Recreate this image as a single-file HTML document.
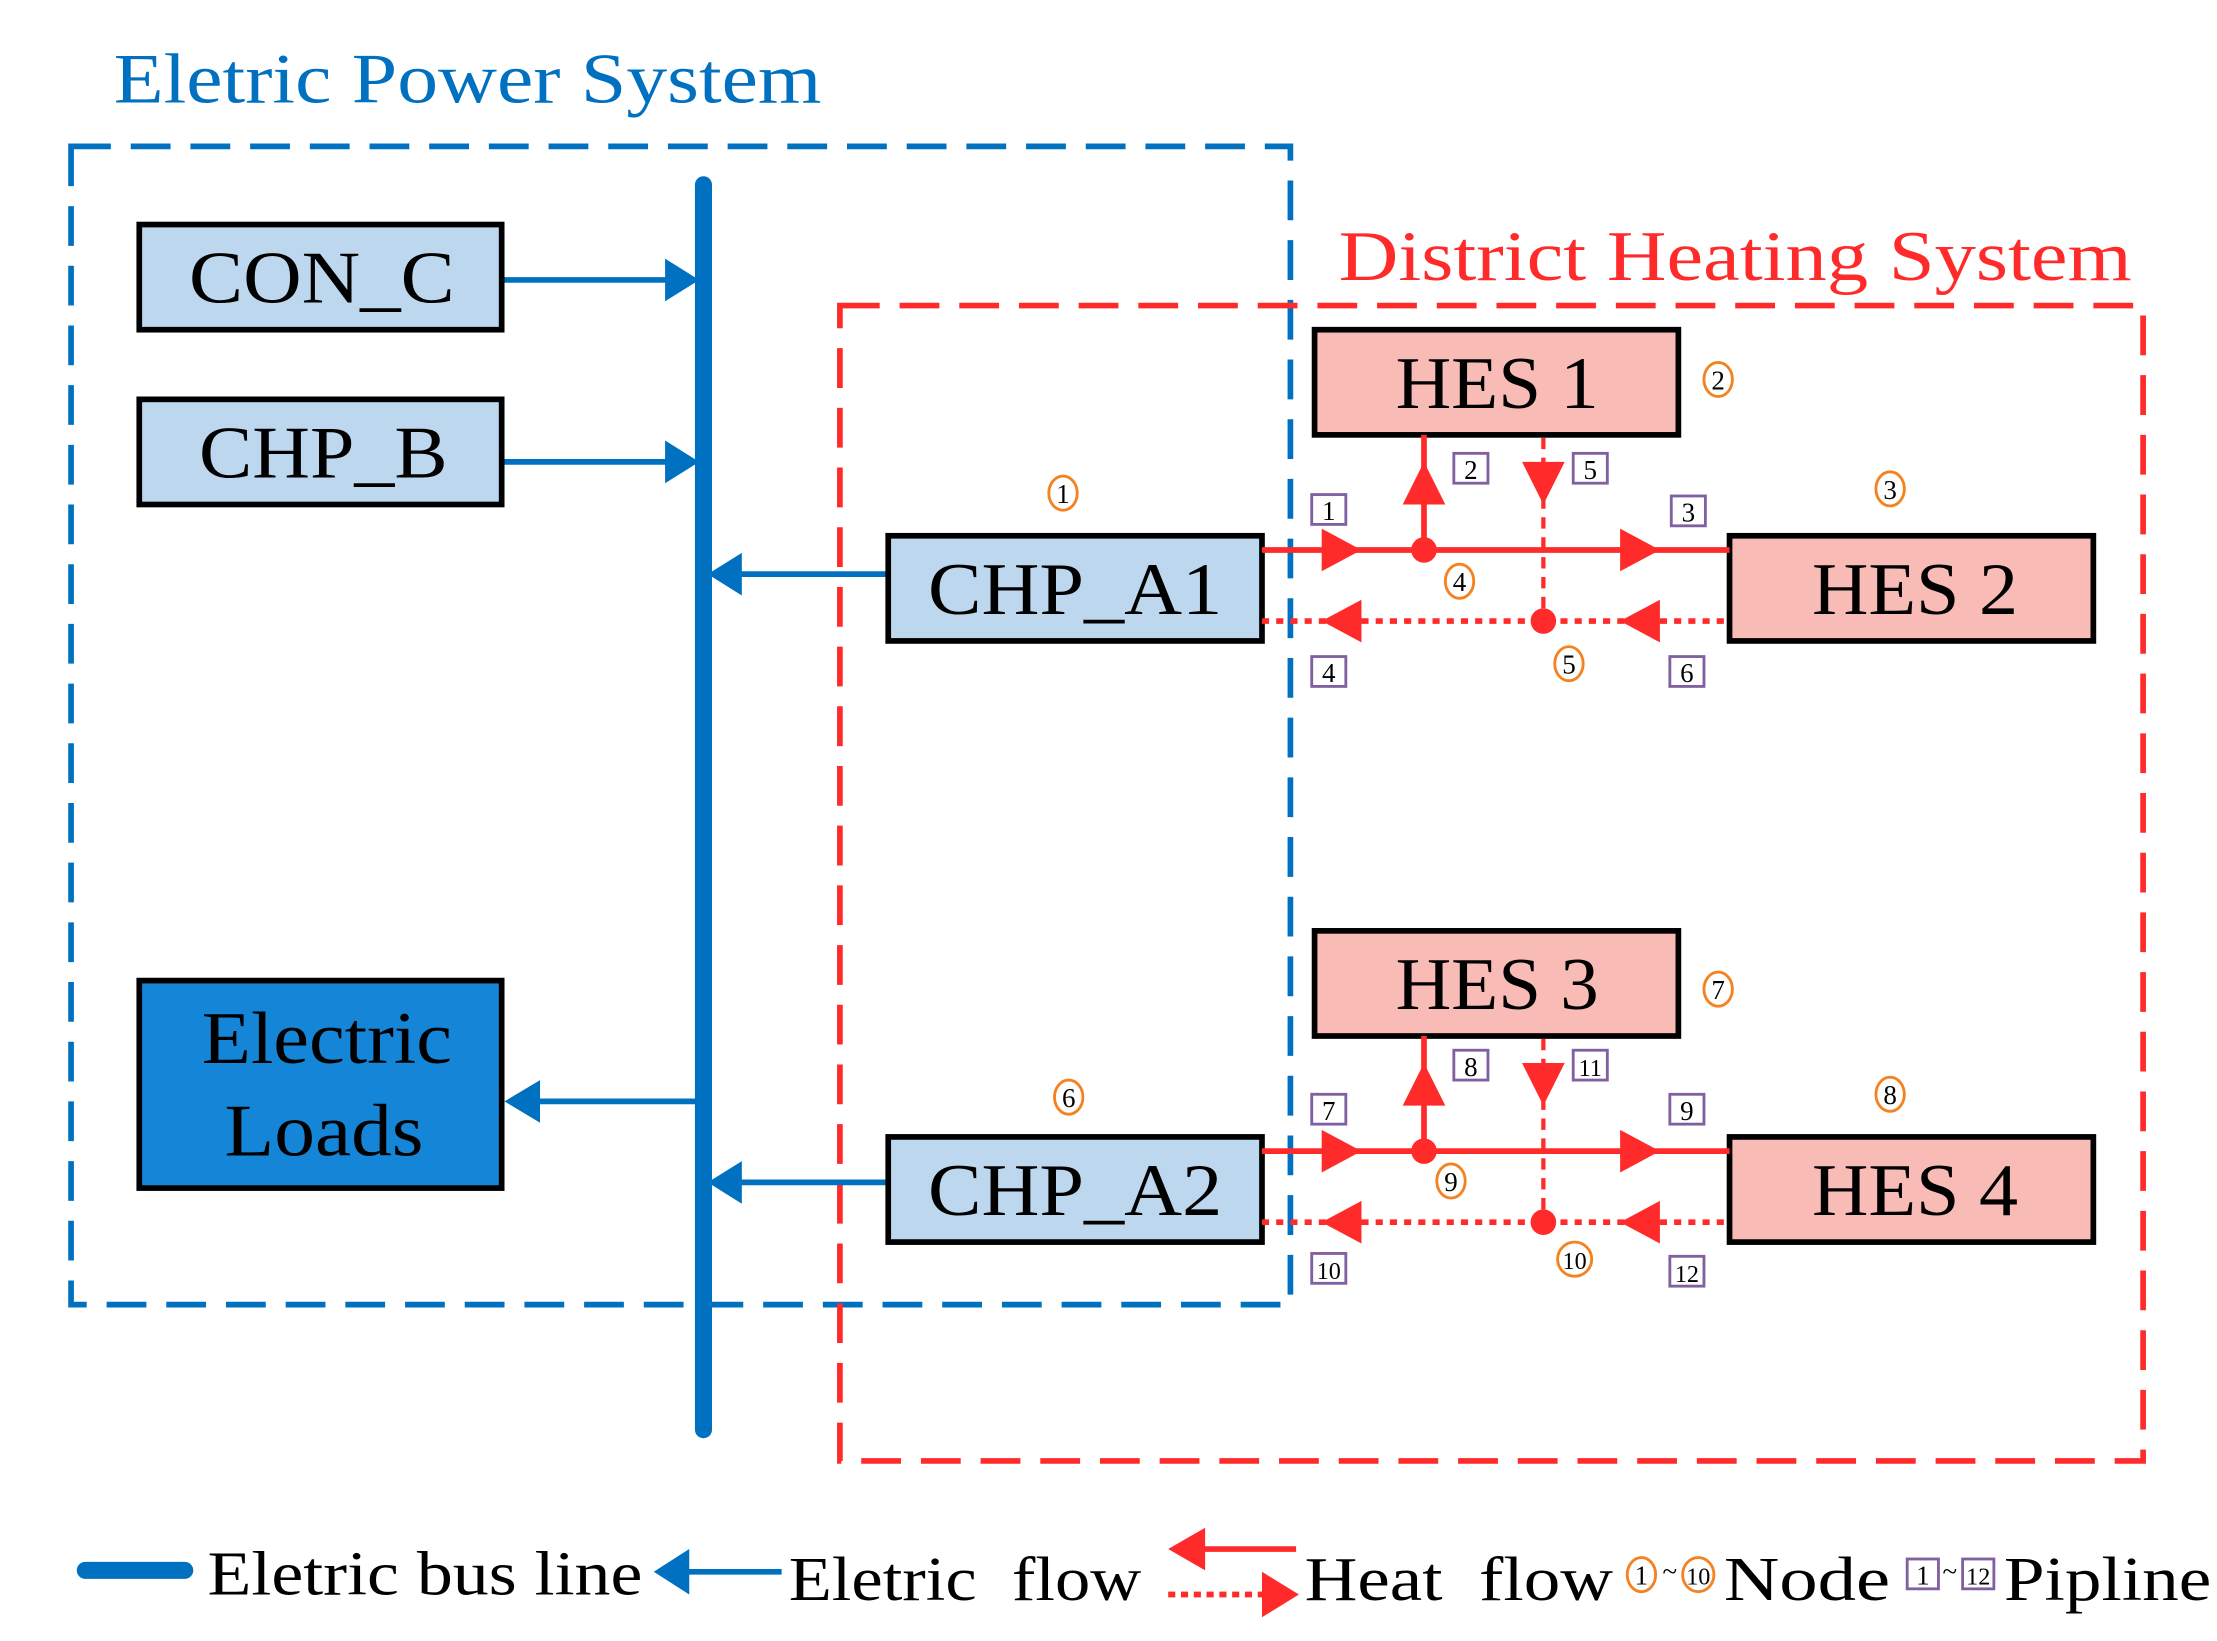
<!DOCTYPE html>
<html><head><meta charset="utf-8"><style>
html,body{margin:0;padding:0;background:#fff;}
svg{display:block;}
text{font-family:"Liberation Serif",serif;}
</style></head><body>
<svg width="2217" height="1641" viewBox="0 0 1560 1154.7" xmlns="http://www.w3.org/2000/svg">
<rect width="1560" height="1155" fill="#fff"/>
<text x="80" y="72" font-size="50" fill="#0070C0" textLength="498" lengthAdjust="spacingAndGlyphs">Eletric Power System</text>
<rect x="50" y="103" width="858" height="815" fill="none" stroke="#0070C0" stroke-width="4" stroke-dasharray="28,14"/>
<text x="942" y="197" font-size="50" fill="#FF2A2A" textLength="558" lengthAdjust="spacingAndGlyphs">District Heating System</text>
<rect x="591" y="215" width="917" height="813" fill="none" stroke="#FF2A2A" stroke-width="4" stroke-dasharray="28,14"/>
<line x1="495" y1="130" x2="495" y2="1006" stroke="#0070C0" stroke-width="12" stroke-linecap="round"/>

<g stroke="#0070C0" stroke-width="4" fill="#0070C0">
<line x1="353" y1="197" x2="470" y2="197"/><path d="M468,182 L492,197 L468,212 Z" stroke="none"/>
<line x1="353" y1="325" x2="470" y2="325"/><path d="M468,310 L492,325 L468,340 Z" stroke="none"/>
<line x1="490" y1="775" x2="378" y2="775"/><path d="M380,760 L355,775 L380,790 Z" stroke="none"/>
<line x1="625" y1="404" x2="520" y2="404"/><path d="M522,389 L498,404 L522,419 Z" stroke="none"/>
<line x1="625" y1="832" x2="520" y2="832"/><path d="M522,817 L498,832 L522,847 Z" stroke="none"/>
</g>

<g stroke="#000" stroke-width="4">
<rect x="98" y="158" width="255" height="74" fill="#BDD7EE"/>
<rect x="98" y="281" width="255" height="74" fill="#BDD7EE"/>
<rect x="98" y="690" width="255" height="146" fill="#1585D8"/>
<rect x="625" y="377" width="263" height="74" fill="#BDD7EE"/>
<rect x="625" y="800" width="263" height="74" fill="#BDD7EE"/>
<rect x="925" y="232" width="256" height="74" fill="#F8BBB6"/>
<rect x="1217" y="377" width="256" height="74" fill="#F8BBB6"/>
<rect x="925" y="655" width="256" height="74" fill="#F8BBB6"/>
<rect x="1217" y="800" width="256" height="74" fill="#F8BBB6"/>
</g>
<g font-size="52" fill="#000" lengthAdjust="spacingAndGlyphs">
<text x="133" y="213" textLength="187" lengthAdjust="spacingAndGlyphs">CON_C</text>
<text x="140" y="336" textLength="175" lengthAdjust="spacingAndGlyphs">CHP_B</text>
<text x="142" y="748" textLength="176" lengthAdjust="spacingAndGlyphs">Electric</text>
<text x="158" y="813" textLength="140" lengthAdjust="spacingAndGlyphs">Loads</text>
<text x="653" y="432" textLength="207" lengthAdjust="spacingAndGlyphs">CHP_A1</text>
<text x="653" y="855" textLength="207" lengthAdjust="spacingAndGlyphs">CHP_A2</text>
<text x="982" y="287" textLength="143" lengthAdjust="spacingAndGlyphs">HES 1</text>
<text x="1275" y="432" textLength="145" lengthAdjust="spacingAndGlyphs">HES 2</text>
<text x="982" y="710" textLength="143" lengthAdjust="spacingAndGlyphs">HES 3</text>
<text x="1275" y="855" textLength="145" lengthAdjust="spacingAndGlyphs">HES 4</text>
</g>

<g id="heat">
<g stroke="#FF2A2A" fill="#FF2A2A">
<line x1="888" y1="387" x2="1217" y2="387" stroke-width="4"/>
<path d="M930,372 L958,387 L930,402 Z" stroke="none"/>
<path d="M1140,372 L1168,387 L1140,402 Z" stroke="none"/>
<circle cx="1002" cy="387" r="9" stroke="none"/>
<line x1="1002" y1="387" x2="1002" y2="306" stroke-width="4"/>
<path d="M987,355 L1002,325 L1017,355 Z" stroke="none"/>
<line x1="888" y1="437" x2="1217" y2="437" stroke-width="4" stroke-dasharray="5,5"/>
<path d="M958,422 L930,437 L958,452 Z" stroke="none"/>
<path d="M1168,422 L1140,437 L1168,452 Z" stroke="none"/>
<circle cx="1086" cy="437" r="9" stroke="none"/>
<line x1="1086" y1="308" x2="1086" y2="437" stroke-width="3" stroke-dasharray="8,6"/>
<path d="M1071,325 L1086,355 L1101,325 Z" stroke="none"/>
</g>
</g>
<use href="#heat" transform="translate(0,423)"/>

<g fill="none" stroke="#F58220" stroke-width="2">
<ellipse cx="748" cy="347" rx="10" ry="12"/><ellipse cx="1209" cy="267" rx="10" ry="12"/>
<ellipse cx="1330" cy="344" rx="10" ry="12"/><ellipse cx="1027" cy="409" rx="10" ry="12"/>
<ellipse cx="1104" cy="467" rx="10" ry="12"/>
<ellipse cx="752" cy="772" rx="10" ry="12"/><ellipse cx="1209" cy="696" rx="10" ry="12"/>
<ellipse cx="1330" cy="770" rx="10" ry="12"/><ellipse cx="1021" cy="831" rx="10" ry="12"/>
<ellipse cx="1108" cy="886" rx="12" ry="12"/>
<ellipse cx="1155" cy="1108" rx="10" ry="12"/><ellipse cx="1195" cy="1108" rx="11" ry="12"/>
</g>
<g font-size="19" text-anchor="middle" fill="#000">
<text x="748" y="354">1</text><text x="1209" y="274">2</text><text x="1330" y="351">3</text>
<text x="1027" y="416">4</text><text x="1104" y="474">5</text><text x="752" y="779">6</text>
<text x="1209" y="703">7</text><text x="1330" y="777">8</text><text x="1021" y="838">9</text>
<text x="1108" y="893" font-size="17">10</text>
<text x="1155" y="1115">1</text><text x="1175" y="1112">~</text><text x="1195" y="1115" font-size="17">10</text>
</g>
<g fill="none" stroke="#8060A0" stroke-width="2">
<rect x="923" y="348" width="24" height="21"/><rect x="1023" y="319" width="24" height="21"/>
<rect x="1107" y="319" width="24" height="21"/><rect x="1176" y="349" width="24" height="21"/>
<rect x="923" y="462" width="24" height="21"/><rect x="1175" y="462" width="24" height="21"/>
<rect x="923" y="770" width="24" height="21"/><rect x="1023" y="739" width="24" height="21"/>
<rect x="1107" y="739" width="24" height="21"/><rect x="1175" y="770" width="24" height="21"/>
<rect x="923" y="882" width="24" height="21"/><rect x="1175" y="884" width="24" height="21"/>
<rect x="1342" y="1097" width="22" height="21"/><rect x="1381" y="1097" width="22" height="21"/>
</g>
<g font-size="19" text-anchor="middle" fill="#000">
<text x="935" y="366">1</text><text x="1035" y="337">2</text><text x="1119" y="337">5</text>
<text x="1188" y="367">3</text><text x="935" y="480">4</text><text x="1187" y="480">6</text>
<text x="935" y="788">7</text><text x="1035" y="757">8</text><text x="1119" y="757" font-size="17">11</text>
<text x="1187" y="788">9</text><text x="935" y="900" font-size="17">10</text><text x="1187" y="902" font-size="17">12</text>
<text x="1353" y="1115">1</text><text x="1372" y="1112">~</text><text x="1392" y="1115" font-size="17">12</text>
</g>

<line x1="60" y1="1105" x2="130" y2="1105" stroke="#0070C0" stroke-width="12" stroke-linecap="round"/>
<line x1="550" y1="1106" x2="480" y2="1106" stroke="#0070C0" stroke-width="4"/>
<path d="M485,1090 L460,1106 L485,1122 Z" fill="#0070C0"/>
<line x1="912" y1="1090" x2="845" y2="1090" stroke="#FF2A2A" stroke-width="4"/>
<path d="M848,1075 L822,1090 L848,1105 Z" fill="#FF2A2A"/>
<line x1="822" y1="1122" x2="890" y2="1122" stroke="#FF2A2A" stroke-width="4" stroke-dasharray="5,4"/>
<path d="M888,1106 L914,1122 L888,1138 Z" fill="#FF2A2A"/>
<g font-size="44" fill="#000">
<text x="146" y="1122" textLength="306" lengthAdjust="spacingAndGlyphs">Eletric bus line</text>
<text x="555" y="1126" xml:space="preserve" textLength="248" lengthAdjust="spacingAndGlyphs">Eletric  flow</text>
<text x="918" y="1126" xml:space="preserve" textLength="217" lengthAdjust="spacingAndGlyphs">Heat  flow</text>
<text x="1213" y="1126" textLength="117" lengthAdjust="spacingAndGlyphs">Node</text>
<text x="1410" y="1126" textLength="146" lengthAdjust="spacingAndGlyphs">Pipline</text>
</g>
</svg>
</body></html>
